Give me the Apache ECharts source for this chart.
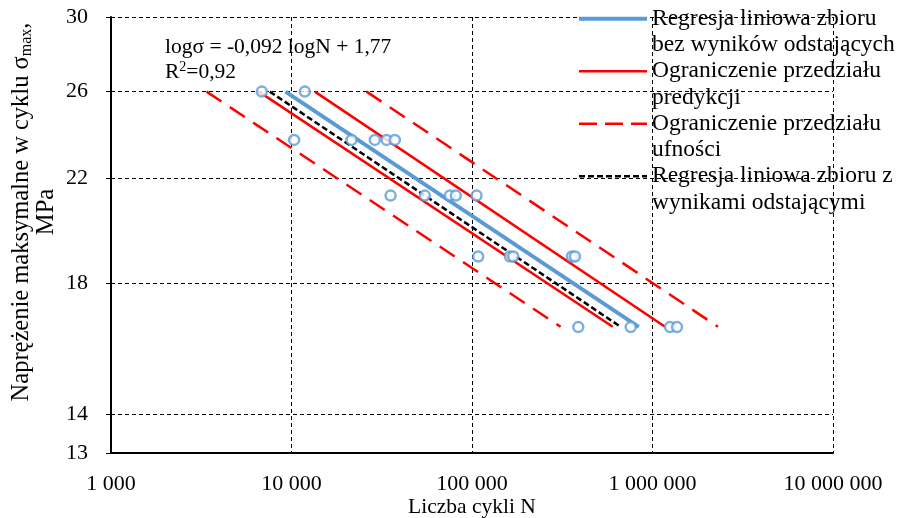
<!DOCTYPE html>
<html>
<head>
<meta charset="utf-8">
<script src="https://cdn.jsdelivr.net/npm/echarts@6/dist/echarts.min.js"></script>
<style>html,body{margin:0;padding:0;background:#fff}#c{width:902px;height:518px}</style>
</head>
<body>
<div id="c"></div>
<script>
// Data points: number of cycles N and max stress (MPa)
const pointsN = [6850, 11850, 10340, 21510, 28950, 33620, 37370, 35390, 54820, 75420, 81400, 106000, 108200, 162300, 169200, 357900, 371900, 387900, 757200, 1250000, 1367000];
const pointsS = [26.0, 26.0, 23.7, 23.7, 23.7, 23.7, 23.7, 21.3, 21.3, 21.3, 21.3, 21.3, 18.95, 18.95, 18.95, 18.95, 18.95, 16.55, 16.55, 16.55, 16.55];
// Regression without outliers
const regN = [9260, 838600];
const regS = [26.0, 16.56];
// Prediction interval bounds
const predLowN = [6590, 601800];
const predLowS = [26.0, 16.56];
const predUpN = [13470, 1173000];
const predUpS = [26.0, 16.56];
// Confidence interval bounds
const confLowN = [3380, 309800];
const confLowS = [26.0, 16.56];
const confUpN = [26040, 2307000];
const confUpS = [26.0, 16.56];
// Regression with outliers
const regAllN = [7580, 666400];
const regAllS = [26.0, 16.56];
// Tick labels
const yTicks = [13, 14, 18, 22, 26, 30];
const xMin = 1000, xMax = 10000000;
const names = [
  'Regresja liniowa zbioru\nbez wyników odstających',
  'Ograniczenie przedziału\npredykcji',
  'Ograniczenie przedziału\nufności',
  'Regresja liniowa zbioru z\nwynikami odstającymi'
];

const FONT = "'Liberation Serif', 'Times New Roman', serif";
const zip = (a, b) => a.map((v, i) => [v, b[i]]);
const fmtThousands = v => String(Math.round(v)).replace(/\B(?=(\d{3})+(?!\d))/g, ' ');

const chart = echarts.init(document.getElementById('c'));
const lineSeries = (name, n, s, color, width, type) => ({
  type: 'line', name: name, data: zip(n, s), showSymbol: false, symbol: 'none',
  lineStyle: { color: color, width: width, type: type }, itemStyle: { color: color },
  silent: true, animation: false, z: 2
});

chart.setOption({
  animation: false,
  backgroundColor: '#fff',
  textStyle: { fontFamily: FONT },
  grid: { left: 111, top: 17, width: 722, height: 436, outerBoundsMode: 'none', containLabel: false },
  legend: {
    orient: 'vertical', left: 577, top: -21, padding: 0,
    itemWidth: 68, itemHeight: 12, itemGap: -27, selectedMode: false,
    data: [
      { name: names[0], lineStyle: { color: '#5B9BD5', width: 4, type: 'solid' } },
      { name: names[1], lineStyle: { color: '#FF0000', width: 2.5, type: 'solid' } },
      { name: names[2], lineStyle: { color: '#FF0000', width: 2.5, type: [18, 8] } },
      { name: names[3], lineStyle: { color: '#000000', width: 2.5, type: [6, 3] } }
    ],
    itemStyle: { opacity: 0 },
    formatter: n => '\u00a0\n' + n,
    textStyle: { fontFamily: FONT, fontSize: 23.5, color: '#000', lineHeight: 26.5 }
  },
  xAxis: {
    type: 'log', logBase: 10, min: xMin, max: xMax,
    name: 'Liczba cykli N', nameLocation: 'middle', nameGap: 43, nameMoveOverlap: false,
    nameTextStyle: { fontFamily: FONT, fontSize: 21.5, color: '#000' },
    axisLine: { lineStyle: { color: '#000', width: 2 } },
    axisTick: { show: false },
    axisLabel: { fontFamily: FONT, fontSize: 22, color: '#000', margin: 20, formatter: fmtThousands },
    splitLine: { show: true, lineStyle: { color: '#000', width: 1, type: [4, 3] } },
    minorSplitLine: { show: false }
  },
  yAxis: {
    type: 'log', logBase: 10, min: 13, max: 30,
    name: '{a|Naprężenie maksymalne w cyklu σ}{sub|max}{a|,}\n{a|MPa}',
    nameLocation: 'middle', nameRotate: 90, nameGap: 52, nameMoveOverlap: false,
    nameTextStyle: {
      fontFamily: FONT, fontSize: 24.5, color: '#000', padding: [0, 0, 0, 46], lineHeight: 25,
      rich: {
        a: { fontFamily: FONT, fontSize: 24.5, color: '#000', lineHeight: 25 },
        sub: { fontFamily: FONT, fontSize: 16, color: '#000', padding: [10, 0, 0, 0], lineHeight: 25 }
      }
    },
    axisLine: { show: true, lineStyle: { color: '#000', width: 2 } },
    axisTick: { show: true, length: 5, customValues: yTicks, lineStyle: { color: '#000', width: 1 } },
    axisLabel: { fontFamily: FONT, fontSize: 22, color: '#000', margin: 23, customValues: yTicks, formatter: v => String(Math.round(v)) },
    splitLine: { show: true, customValues: yTicks, lineStyle: { color: '#000', width: 1, type: [4, 3] } }
  },
  graphic: [{
    type: 'text', left: 165, top: 36,
    style: {
      text: '{a|logσ = -0,092 logN + 1,77}\n{a|R}{sup|2}{a|=0,92}',
      rich: {
        a: { fontFamily: FONT, fontSize: 21.5, fill: '#000', lineHeight: 25 },
        sup: { fontFamily: FONT, fontSize: 14, fill: '#000', padding: [0, 0, 9, 0], lineHeight: 25 }
      }
    }
  }],
  series: [
    lineSeries(names[2], confLowN, confLowS, '#FF0000', 2.5, [18, 10]),
    lineSeries(names[2], confUpN, confUpS, '#FF0000', 2.5, [18, 10]),
    lineSeries(names[1], predLowN, predLowS, '#FF0000', 2.5, 'solid'),
    lineSeries(names[1], predUpN, predUpS, '#FF0000', 2.5, 'solid'),
    lineSeries(names[3], regAllN, regAllS, '#000000', 2.5, [6, 3]),
    Object.assign(lineSeries(names[0], regN, regS, '#5B9BD5', 4, 'solid'), { z: 3 }),
    {
      type: 'scatter', name: 'dane', data: zip(pointsN, pointsS),
      symbol: 'circle', symbolSize: 10,
      itemStyle: { color: '#fff', borderColor: '#5B9BD5', borderWidth: 2.5 },
      silent: true, z: 4
    }
  ]
});
</script>
</body>
</html>
